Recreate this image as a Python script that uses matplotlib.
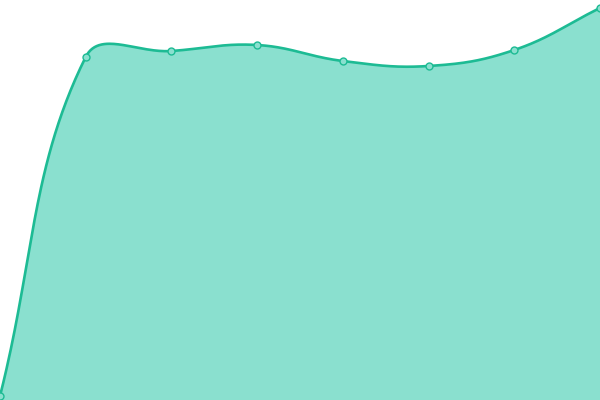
import numpy as np
import matplotlib
matplotlib.use("Agg")
import matplotlib.pyplot as plt

categories = ["A", "B", "C", "D", "E", "F", "G", "H"]
values = [4, 343, 349, 355, 339, 334, 350, 392]

line_color = "#1dbb94"
fill_color = "#8ae0cf"
marker_face = "#8ae0cf"

W, H = 600, 400
tension = 0.4

def spline_curve(xs, ys, t=tension, n=60):
    # Chart.js-style spline computed in pixel space
    P = np.column_stack([np.asarray(xs, float) * W / (len(xs) - 1),
                         np.asarray(ys, float) * H / 400.0])
    m = len(P)
    cps = []
    for i in range(m):
        prev = P[i - 1] if i > 0 else P[i]
        nxt = P[i + 1] if i < m - 1 else P[i]
        d01 = np.linalg.norm(P[i] - prev)
        d12 = np.linalg.norm(nxt - P[i])
        s = d01 + d12
        s01 = d01 / s if s else 0
        s12 = d12 / s if s else 0
        v = nxt - prev
        cps.append((P[i] - t * s01 * v, P[i] + t * s12 * v))
    out = []
    for i in range(m - 1):
        a, b = P[i], P[i + 1]
        c1 = cps[i][1]
        c2 = cps[i + 1][0]
        tt = np.linspace(0, 1, n)[:, None]
        seg = (1 - tt) ** 3 * a + 3 * (1 - tt) ** 2 * tt * c1 + 3 * (1 - tt) * tt ** 2 * c2 + tt ** 3 * b
        out.append(seg)
    out = np.vstack(out)
    return out[:, 0] * (len(xs) - 1) / W, out[:, 1] * 400.0 / H

x = np.arange(len(categories))
sx, sy = spline_curve(x, values)

fig = plt.figure(figsize=(6, 4), dpi=100)
ax = fig.add_axes([0, 0, 1, 1])
ax.fill_between(sx, 0, sy, color=fill_color, linewidth=0)
ax.plot(sx, sy, color=line_color, linewidth=1.9, solid_capstyle="round")
ax.plot(x, values, linestyle="none", marker="o", markersize=5,
        markerfacecolor=marker_face, markeredgecolor=line_color, markeredgewidth=1.0)
ax.set_xlim(0, len(categories) - 1)
ax.set_ylim(0, 400)
ax.axis("off")
fig.savefig("out.png", dpi=100)
